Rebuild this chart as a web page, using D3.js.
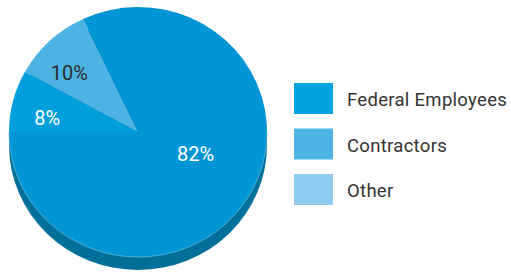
<!DOCTYPE html>
<html>
<head>
<meta charset="utf-8">
<script src="https://cdn.jsdelivr.net/npm/d3@7"></script>
<style>
  body { margin: 0; background: #fff; }
  svg { display: block; font-family: Roboto, "Noto Sans", sans-serif; }
</style>
</head>
<body>
<script>
(function(){

//slice data, in drawing order (clockwise from 9 o'clock)
var sliceLabels = ["8%", "10%", "82%"];
var sliceValues = [8, 10, 82];
var sliceColors = ["#009fdb", "#4db3e3", "#0095d4"];
var labelColors = ["#ffffff", "#2b2b2b", "#ffffff"];

//legend entries
var legendNames = ["Federal Employees", "Contractors", "Other"];
var legendColors = ["#00a4e1", "#4db4e3", "#8fcbee"];

var width = 511,
    height = 273;

var cx = 138,
    cy = 132,
    rx = 129,
    ry = 125,
    depth = 13;

var svg = d3.select("body")
    .append("svg")
    .attr("width", width)
    .attr("height", height);

//side of the pie (extrusion)
var side = svg.append("g")
    .attr("class", "side");

side.append("rect")
    .attr("x", cx - rx)
    .attr("y", cy)
    .attr("width", rx * 2)
    .attr("height", depth)
    .attr("fill", "#00709b");

side.append("ellipse")
    .attr("cx", cx)
    .attr("cy", cy + depth)
    .attr("rx", rx)
    .attr("ry", ry)
    .attr("fill", "#00709b");

//pie layout, starting at 9 o'clock going clockwise
var pie = d3.pie()
    .sort(null)
    .startAngle(-Math.PI / 2)
    .endAngle(Math.PI * 1.5);

var arcs = pie(sliceValues);

var arc = d3.arc()
    .innerRadius(0)
    .outerRadius(rx);

//top face, squashed a little to an ellipse
var top = svg.append("g")
    .attr("transform", "translate(" + cx + "," + cy + ") scale(1," + (ry / rx) + ")");

top.selectAll(".slice")
    .data(arcs)
    .enter()
    .append("path")
    .attr("class", "slice")
    .attr("d", arc)
    .attr("fill", function(d, i){ return sliceColors[i]; });

//faint rim line on the front edge
top.append("path")
    .attr("d", d3.arc().innerRadius(rx).outerRadius(rx).startAngle(Math.PI / 2).endAngle(Math.PI * 1.5)())
    .attr("fill", "none")
    .attr("stroke", "#5fb8e0")
    .attr("stroke-width", 0.8)
    .attr("opacity", 0.6);

//slice label position: a bit before the middle of each slice
function labelPos(d){
    var big = d.value > 50;
    var a = (d.startAngle + d.endAngle) / 2 - (big ? 0.19 : 0.09);
    var r = big ? 62 : 92;
    return [cx + r * Math.sin(a), cy - r * Math.cos(a) * ry / rx];
}

svg.selectAll(".sliceLabel")
    .data(arcs)
    .enter()
    .append("text")
    .attr("class", "sliceLabel")
    .attr("x", function(d){ return labelPos(d)[0]; })
    .attr("y", function(d){ return labelPos(d)[1]; })
    .attr("text-anchor", "middle")
    .attr("dy", "0.36em")
    .attr("font-size", 20)
    .attr("fill", function(d, i){ return labelColors[i]; })
    .text(function(d, i){ return sliceLabels[i]; });

//legend
var legendY = d3.scaleBand()
    .domain(legendNames)
    .range([83, 205])
    .paddingInner(0.32);

var legend = svg.selectAll(".legend")
    .data(legendNames)
    .enter()
    .append("g")
    .attr("class", "legend")
    .attr("transform", function(d){ return "translate(294," + legendY(d) + ")"; });

legend.append("rect")
    .attr("width", 39)
    .attr("height", legendY.bandwidth())
    .attr("fill", function(d, i){ return legendColors[i]; });

legend.append("text")
    .attr("x", 53)
    .attr("y", legendY.bandwidth() / 2)
    .attr("dy", "0.42em")
    .attr("font-size", 18.5)
    .attr("letter-spacing", 0.3)
    .attr("fill", "#333")
    .text(function(d){ return d; });

})();
</script>
</body>
</html>
